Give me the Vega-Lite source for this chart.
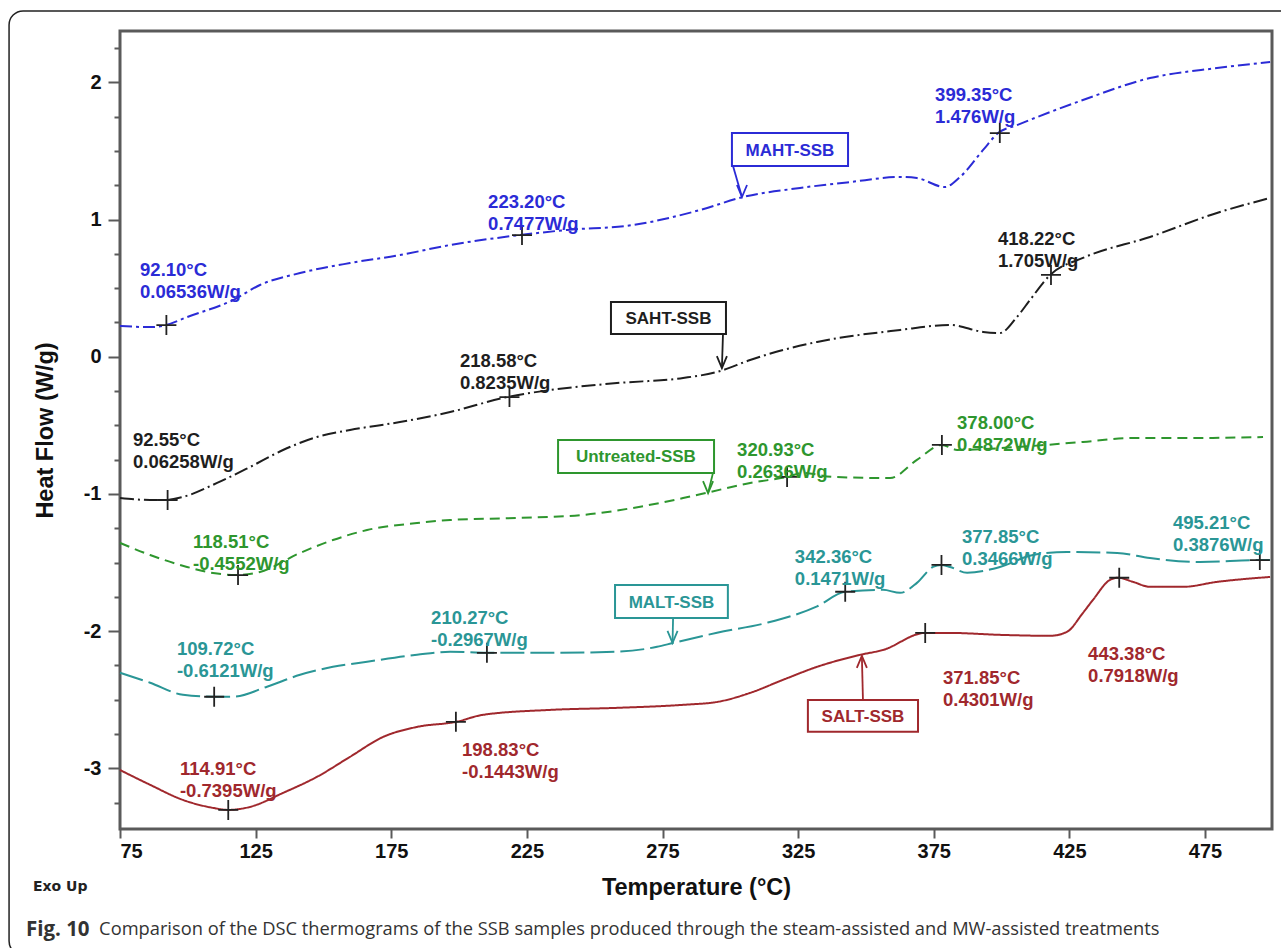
{
  "$schema": "https://vega.github.io/schema/vega-lite/v6.json",
  "width": 1152,
  "height": 798,
  "autosize": "none",
  "padding": {"left": 120, "top": 31, "right": 9, "bottom": 119},
  "background": "white",
  "config": {
    "view": {"stroke": "#5a5a5a", "strokeWidth": 3},
    "font": "Liberation Sans",
    "axis": {"labelFont": "Liberation Sans", "titleFont": "Liberation Sans", "labelColor": "#111", "titleColor": "#111", "tickColor": "#5a5a5a", "tickWidth": 2, "grid": false, "domain": false}
  },
  "datasets": {
    "curves": [
      {"s": "MAHT-SSB", "t": 75, "hf": 0.224},
      {"s": "MAHT-SSB", "t": 86.1, "hf": 0.216},
      {"s": "MAHT-SSB", "t": 92.0, "hf": 0.231},
      {"s": "MAHT-SSB", "t": 99.7, "hf": 0.289},
      {"s": "MAHT-SSB", "t": 116.7, "hf": 0.413},
      {"s": "MAHT-SSB", "t": 126.6, "hf": 0.523},
      {"s": "MAHT-SSB", "t": 141.4, "hf": 0.61},
      {"s": "MAHT-SSB", "t": 159.8, "hf": 0.683},
      {"s": "MAHT-SSB", "t": 178.2, "hf": 0.741},
      {"s": "MAHT-SSB", "t": 196.6, "hf": 0.814},
      {"s": "MAHT-SSB", "t": 222.5, "hf": 0.887},
      {"s": "MAHT-SSB", "t": 239.8, "hf": 0.924},
      {"s": "MAHT-SSB", "t": 264.1, "hf": 0.96},
      {"s": "MAHT-SSB", "t": 288.8, "hf": 1.069},
      {"s": "MAHT-SSB", "t": 304.7, "hf": 1.164},
      {"s": "MAHT-SSB", "t": 325.7, "hf": 1.23},
      {"s": "MAHT-SSB", "t": 344.1, "hf": 1.273},
      {"s": "MAHT-SSB", "t": 362.6, "hf": 1.31},
      {"s": "MAHT-SSB", "t": 368.8, "hf": 1.302},
      {"s": "MAHT-SSB", "t": 379.1, "hf": 1.237},
      {"s": "MAHT-SSB", "t": 384.7, "hf": 1.31},
      {"s": "MAHT-SSB", "t": 393.2, "hf": 1.507},
      {"s": "MAHT-SSB", "t": 398.7, "hf": 1.63},
      {"s": "MAHT-SSB", "t": 405.7, "hf": 1.688},
      {"s": "MAHT-SSB", "t": 430.0, "hf": 1.871},
      {"s": "MAHT-SSB", "t": 454.7, "hf": 2.031},
      {"s": "MAHT-SSB", "t": 479.4, "hf": 2.104},
      {"s": "MAHT-SSB", "t": 499.0, "hf": 2.148},

      {"s": "SAHT-SSB", "t": 75, "hf": -1.03},
      {"s": "SAHT-SSB", "t": 86.1, "hf": -1.044},
      {"s": "SAHT-SSB", "t": 92.0, "hf": -1.044},
      {"s": "SAHT-SSB", "t": 98.2, "hf": -1.022},
      {"s": "SAHT-SSB", "t": 110.8, "hf": -0.92},
      {"s": "SAHT-SSB", "t": 122.9, "hf": -0.804},
      {"s": "SAHT-SSB", "t": 135.1, "hf": -0.68},
      {"s": "SAHT-SSB", "t": 147.6, "hf": -0.585},
      {"s": "SAHT-SSB", "t": 159.8, "hf": -0.534},
      {"s": "SAHT-SSB", "t": 178.2, "hf": -0.476},
      {"s": "SAHT-SSB", "t": 196.7, "hf": -0.403},
      {"s": "SAHT-SSB", "t": 217.7, "hf": -0.294},
      {"s": "SAHT-SSB", "t": 233.5, "hf": -0.243},
      {"s": "SAHT-SSB", "t": 258.2, "hf": -0.192},
      {"s": "SAHT-SSB", "t": 282.6, "hf": -0.155},
      {"s": "SAHT-SSB", "t": 295.1, "hf": -0.111},
      {"s": "SAHT-SSB", "t": 307.3, "hf": -0.024},
      {"s": "SAHT-SSB", "t": 319.4, "hf": 0.049},
      {"s": "SAHT-SSB", "t": 332.0, "hf": 0.108},
      {"s": "SAHT-SSB", "t": 362.6, "hf": 0.195},
      {"s": "SAHT-SSB", "t": 381.0, "hf": 0.232},
      {"s": "SAHT-SSB", "t": 393.2, "hf": 0.181},
      {"s": "SAHT-SSB", "t": 399.4, "hf": 0.173},
      {"s": "SAHT-SSB", "t": 405.7, "hf": 0.29},
      {"s": "SAHT-SSB", "t": 410.5, "hf": 0.414},
      {"s": "SAHT-SSB", "t": 417.9, "hf": 0.596},
      {"s": "SAHT-SSB", "t": 430.0, "hf": 0.72},
      {"s": "SAHT-SSB", "t": 454.7, "hf": 0.873},
      {"s": "SAHT-SSB", "t": 479.4, "hf": 1.048},
      {"s": "SAHT-SSB", "t": 499.0, "hf": 1.157},

      {"s": "Untreated-SSB", "t": 75, "hf": -1.357},
      {"s": "Untreated-SSB", "t": 86.1, "hf": -1.445},
      {"s": "Untreated-SSB", "t": 99.7, "hf": -1.532},
      {"s": "Untreated-SSB", "t": 109.3, "hf": -1.576},
      {"s": "Untreated-SSB", "t": 117.8, "hf": -1.591},
      {"s": "Untreated-SSB", "t": 126.6, "hf": -1.569},
      {"s": "Untreated-SSB", "t": 141.4, "hf": -1.43},
      {"s": "Untreated-SSB", "t": 153.5, "hf": -1.336},
      {"s": "Untreated-SSB", "t": 166.1, "hf": -1.263},
      {"s": "Untreated-SSB", "t": 184.5, "hf": -1.212},
      {"s": "Untreated-SSB", "t": 196.7, "hf": -1.19},
      {"s": "Untreated-SSB", "t": 221.4, "hf": -1.175},
      {"s": "Untreated-SSB", "t": 245.7, "hf": -1.153},
      {"s": "Untreated-SSB", "t": 264.1, "hf": -1.102},
      {"s": "Untreated-SSB", "t": 282.6, "hf": -1.03},
      {"s": "Untreated-SSB", "t": 292.5, "hf": -0.986},
      {"s": "Untreated-SSB", "t": 307.3, "hf": -0.92},
      {"s": "Untreated-SSB", "t": 320.9, "hf": -0.876},
      {"s": "Untreated-SSB", "t": 326.8, "hf": -0.847},
      {"s": "Untreated-SSB", "t": 337.9, "hf": -0.876},
      {"s": "Untreated-SSB", "t": 358.9, "hf": -0.884},
      {"s": "Untreated-SSB", "t": 368.8, "hf": -0.752},
      {"s": "Untreated-SSB", "t": 378.0, "hf": -0.643},
      {"s": "Untreated-SSB", "t": 383.6, "hf": -0.679},
      {"s": "Untreated-SSB", "t": 405.7, "hf": -0.658},
      {"s": "Untreated-SSB", "t": 430.0, "hf": -0.621},
      {"s": "Untreated-SSB", "t": 448.5, "hf": -0.592},
      {"s": "Untreated-SSB", "t": 473.2, "hf": -0.592},
      {"s": "Untreated-SSB", "t": 496.4, "hf": -0.585},

      {"s": "MALT-SSB", "t": 75, "hf": -2.303},
      {"s": "MALT-SSB", "t": 86.1, "hf": -2.376},
      {"s": "MALT-SSB", "t": 98.2, "hf": -2.464},
      {"s": "MALT-SSB", "t": 109.7, "hf": -2.478},
      {"s": "MALT-SSB", "t": 116.7, "hf": -2.478},
      {"s": "MALT-SSB", "t": 129.2, "hf": -2.405},
      {"s": "MALT-SSB", "t": 141.4, "hf": -2.318},
      {"s": "MALT-SSB", "t": 153.5, "hf": -2.26},
      {"s": "MALT-SSB", "t": 166.1, "hf": -2.223},
      {"s": "MALT-SSB", "t": 184.5, "hf": -2.172},
      {"s": "MALT-SSB", "t": 196.7, "hf": -2.15},
      {"s": "MALT-SSB", "t": 210.3, "hf": -2.158},
      {"s": "MALT-SSB", "t": 233.5, "hf": -2.158},
      {"s": "MALT-SSB", "t": 258.2, "hf": -2.15},
      {"s": "MALT-SSB", "t": 273.0, "hf": -2.114},
      {"s": "MALT-SSB", "t": 278.9, "hf": -2.086},
      {"s": "MALT-SSB", "t": 295.1, "hf": -2.012},
      {"s": "MALT-SSB", "t": 313.5, "hf": -1.939},
      {"s": "MALT-SSB", "t": 332.0, "hf": -1.82},
      {"s": "MALT-SSB", "t": 342.3, "hf": -1.713},
      {"s": "MALT-SSB", "t": 356.3, "hf": -1.699},
      {"s": "MALT-SSB", "t": 362.6, "hf": -1.721},
      {"s": "MALT-SSB", "t": 368.8, "hf": -1.648},
      {"s": "MALT-SSB", "t": 374.7, "hf": -1.532},
      {"s": "MALT-SSB", "t": 377.7, "hf": -1.517},
      {"s": "MALT-SSB", "t": 381.0, "hf": -1.532},
      {"s": "MALT-SSB", "t": 387.3, "hf": -1.575},
      {"s": "MALT-SSB", "t": 399.4, "hf": -1.532},
      {"s": "MALT-SSB", "t": 411.6, "hf": -1.445},
      {"s": "MALT-SSB", "t": 424.1, "hf": -1.423},
      {"s": "MALT-SSB", "t": 442.6, "hf": -1.43},
      {"s": "MALT-SSB", "t": 454.7, "hf": -1.467},
      {"s": "MALT-SSB", "t": 473.2, "hf": -1.496},
      {"s": "MALT-SSB", "t": 495.3, "hf": -1.482},
      {"s": "MALT-SSB", "t": 499.0, "hf": -1.482},

      {"s": "SALT-SSB", "t": 75, "hf": -3.012},
      {"s": "SALT-SSB", "t": 86.1, "hf": -3.12},
      {"s": "SALT-SSB", "t": 98.2, "hf": -3.23},
      {"s": "SALT-SSB", "t": 109.3, "hf": -3.288},
      {"s": "SALT-SSB", "t": 114.8, "hf": -3.303},
      {"s": "SALT-SSB", "t": 122.9, "hf": -3.281},
      {"s": "SALT-SSB", "t": 135.1, "hf": -3.179},
      {"s": "SALT-SSB", "t": 147.6, "hf": -3.062},
      {"s": "SALT-SSB", "t": 159.8, "hf": -2.916},
      {"s": "SALT-SSB", "t": 172.0, "hf": -2.771},
      {"s": "SALT-SSB", "t": 184.5, "hf": -2.698},
      {"s": "SALT-SSB", "t": 198.9, "hf": -2.661},
      {"s": "SALT-SSB", "t": 208.8, "hf": -2.61},
      {"s": "SALT-SSB", "t": 233.5, "hf": -2.574},
      {"s": "SALT-SSB", "t": 258.2, "hf": -2.559},
      {"s": "SALT-SSB", "t": 282.6, "hf": -2.537},
      {"s": "SALT-SSB", "t": 295.1, "hf": -2.516},
      {"s": "SALT-SSB", "t": 307.3, "hf": -2.45},
      {"s": "SALT-SSB", "t": 319.4, "hf": -2.355},
      {"s": "SALT-SSB", "t": 332.0, "hf": -2.26},
      {"s": "SALT-SSB", "t": 347.8, "hf": -2.173},
      {"s": "SALT-SSB", "t": 356.3, "hf": -2.137},
      {"s": "SALT-SSB", "t": 371.8, "hf": -2.013},
      {"s": "SALT-SSB", "t": 381.0, "hf": -2.013},
      {"s": "SALT-SSB", "t": 399.4, "hf": -2.027},
      {"s": "SALT-SSB", "t": 417.9, "hf": -2.034},
      {"s": "SALT-SSB", "t": 424.1, "hf": -2.005},
      {"s": "SALT-SSB", "t": 430.0, "hf": -1.867},
      {"s": "SALT-SSB", "t": 433.7, "hf": -1.772},
      {"s": "SALT-SSB", "t": 440.0, "hf": -1.626},
      {"s": "SALT-SSB", "t": 442.9, "hf": -1.611},
      {"s": "SALT-SSB", "t": 448.5, "hf": -1.641},
      {"s": "SALT-SSB", "t": 454.7, "hf": -1.677},
      {"s": "SALT-SSB", "t": 466.9, "hf": -1.677},
      {"s": "SALT-SSB", "t": 479.4, "hf": -1.641},
      {"s": "SALT-SSB", "t": 499.0, "hf": -1.605}
    ],
    "markers": [
      {"t": 92.10, "hf": 0.231},
      {"t": 223.20, "hf": 0.887},
      {"t": 399.35, "hf": 1.63},
      {"t": 92.55, "hf": -1.044},
      {"t": 218.58, "hf": -0.294},
      {"t": 418.22, "hf": 0.596},
      {"t": 118.51, "hf": -1.591},
      {"t": 320.93, "hf": -0.876},
      {"t": 378.00, "hf": -0.643},
      {"t": 109.72, "hf": -2.478},
      {"t": 210.27, "hf": -2.158},
      {"t": 342.36, "hf": -1.713},
      {"t": 377.85, "hf": -1.517},
      {"t": 495.21, "hf": -1.482},
      {"t": 114.91, "hf": -3.303},
      {"t": 198.83, "hf": -2.661},
      {"t": 371.85, "hf": -2.013},
      {"t": 443.38, "hf": -1.611}
    ],
    "labels": [
      {"s": "MAHT-SSB", "t": 82.4, "hf": 0.632, "txt": "92.10°C\n0.06536W/g"},
      {"s": "MAHT-SSB", "t": 210.7, "hf": 1.131, "txt": "223.20°C\n0.7477W/g"},
      {"s": "MAHT-SSB", "t": 375.5, "hf": 1.911, "txt": "399.35°C\n1.476W/g"},
      {"s": "SAHT-SSB", "t": 79.8, "hf": -0.607, "txt": "92.55°C\n0.06258W/g"},
      {"s": "SAHT-SSB", "t": 200.3, "hf": -0.028, "txt": "218.58°C\n0.8235W/g"},
      {"s": "SAHT-SSB", "t": 398.7, "hf": 0.858, "txt": "418.22°C\n1.705W/g"},
      {"s": "Untreated-SSB", "t": 101.9, "hf": -1.347, "txt": "118.51°C\n-0.4552W/g"},
      {"s": "Untreated-SSB", "t": 302.5, "hf": -0.68, "txt": "320.93°C\n0.2636W/g"},
      {"s": "Untreated-SSB", "t": 383.6, "hf": -0.48, "txt": "378.00°C\n0.4872W/g"},
      {"s": "MALT-SSB", "t": 96.0, "hf": -2.13, "txt": "109.72°C\n-0.6121W/g"},
      {"s": "MALT-SSB", "t": 189.7, "hf": -1.905, "txt": "210.27°C\n-0.2967W/g"},
      {"s": "MALT-SSB", "t": 323.8, "hf": -1.456, "txt": "342.36°C\n0.1471W/g"},
      {"s": "MALT-SSB", "t": 385.4, "hf": -1.314, "txt": "377.85°C\n0.3466W/g"},
      {"s": "MALT-SSB", "t": 463.2, "hf": -1.212, "txt": "495.21°C\n0.3876W/g"},
      {"s": "SALT-SSB", "t": 97.1, "hf": -3.005, "txt": "114.91°C\n-0.7395W/g"},
      {"s": "SALT-SSB", "t": 201.1, "hf": -2.863, "txt": "198.83°C\n-0.1443W/g"},
      {"s": "SALT-SSB", "t": 378.4, "hf": -2.338, "txt": "371.85°C\n0.4301W/g"},
      {"s": "SALT-SSB", "t": 431.9, "hf": -2.167, "txt": "443.38°C\n0.7918W/g"}
    ],
    "boxes": [
      {"s": "MAHT-SSB", "t": 300.6, "t2": 343.4, "hf": 1.63, "hf2": 1.39, "tc": 322.0, "hc": 1.51},
      {"s": "SAHT-SSB", "t": 256.0, "t2": 298.4, "hf": 0.399, "hf2": 0.165, "tc": 277.2, "hc": 0.282},
      {"s": "Untreated-SSB", "t": 236.5, "t2": 294.0, "hf": -0.607, "hf2": -0.848, "tc": 265.2, "hc": -0.727},
      {"s": "MALT-SSB", "t": 257.5, "t2": 299.1, "hf": -1.663, "hf2": -1.904, "tc": 278.3, "hc": -1.784},
      {"s": "SALT-SSB", "t": 328.6, "t2": 369.2, "hf": -2.501, "hf2": -2.734, "tc": 348.9, "hc": -2.619}
    ],
    "arrows": [
      {"s": "MAHT-SSB", "t": 301.0, "hf": 1.39, "t2": 304.3, "hf2": 1.164, "dir": "down"},
      {"s": "SAHT-SSB", "t": 297.3, "hf": 0.165, "t2": 296.9, "hf2": -0.083, "dir": "down"},
      {"s": "Untreated-SSB", "t": 293.6, "hf": -0.848, "t2": 291.8, "hf2": -0.994, "dir": "down"},
      {"s": "MALT-SSB", "t": 278.9, "hf": -1.904, "t2": 278.7, "hf2": -2.086, "dir": "down"},
      {"s": "SALT-SSB", "t": 348.9, "hf": -2.501, "t2": 348.5, "hf2": -2.18, "dir": "up"}
    ]
  },
  "layer": [
    {
      "data": {"values": [{}]},
      "mark": {"type": "rect", "filled": false, "stroke": "#222", "strokeWidth": 1.5, "cornerRadius": 14, "clip": false},
      "encoding": {
        "x": {"datum": 34.1, "type": "quantitative", "scale": {"domain": [75, 499.7], "nice": false, "zero": false}, "axis": {"values": [75, 125, 175, 225, 275, 325, 375, 425, 475], "tickSize": 9, "labelFontSize": 20, "labelFontWeight": "bold", "labelPadding": 3, "title": "Temperature (°C)", "titleFontSize": 23.5, "titleFontWeight": "bold", "titlePadding": 14}},
        "x2": {"datum": 512},
        "y": {"datum": 2.52, "type": "quantitative", "scale": {"domain": [-3.442, 2.374], "nice": false, "zero": false}, "axis": {"orient": "left", "values": [-3, -2, -1, 0, 1, 2], "labelExpr": "datum.value < 0 ? '-' + abs(datum.value) : '' + datum.value", "tickSize": 12, "labelFontSize": 20, "labelFontWeight": "bold", "labelPadding": 7, "title": "Heat Flow (W/g)", "titleFontSize": 23.5, "titleFontWeight": "bold", "titlePadding": 26}},
        "y2": {"datum": -4.361}
      }
    },
    {
      "data": {"name": "curves"},
      "mark": {"type": "line", "strokeWidth": 2, "interpolate": "monotone"},
      "encoding": {
        "x": {"field": "t", "type": "quantitative"},
        "y": {"field": "hf", "type": "quantitative", "axis": {"orient": "left", "values": [-3.25, -2.75, -2.5, -2.25, -1.75, -1.5, -1.25, -0.75, -0.5, -0.25, 0.25, 0.5, 0.75, 1.25, 1.5, 1.75, 2.25], "tickSize": 6, "labels": false, "title": null}},
        "color": {"field": "s", "type": "nominal", "legend": null, "scale": {"domain": ["MAHT-SSB", "SAHT-SSB", "Untreated-SSB", "MALT-SSB", "SALT-SSB"], "range": ["#2b2bd6", "#1e1e1e", "#2e962e", "#2a9696", "#a0282d"]}},
        "strokeDash": {"field": "s", "type": "nominal", "legend": null, "scale": {"domain": ["MAHT-SSB", "SAHT-SSB", "Untreated-SSB", "MALT-SSB", "SALT-SSB"], "range": [[12, 4, 3, 4], [14, 4, 2, 4], [10, 6], [24, 6], [1, 0]]}}
      }
    },
    {
      "data": {"name": "markers"},
      "mark": {"type": "point", "shape": "M-1,0H1M0,-1V1", "size": 400, "stroke": "#222", "strokeWidth": 1.8, "opacity": 1},
      "encoding": {
        "x": {"field": "t", "type": "quantitative"},
        "y": {"field": "hf", "type": "quantitative", "axis": null}
      }
    },
    {
      "data": {"name": "labels"},
      "mark": {"type": "text", "align": "left", "baseline": "middle", "fontSize": 18.5, "fontWeight": "bold", "lineBreak": "\n", "lineHeight": 22, "clip": false},
      "encoding": {
        "x": {"field": "t", "type": "quantitative"},
        "y": {"field": "hf", "type": "quantitative", "axis": null},
        "text": {"field": "txt"},
        "color": {"field": "s", "type": "nominal", "legend": null}
      }
    },
    {
      "data": {"name": "boxes"},
      "mark": {"type": "rect", "fill": "white", "strokeWidth": 2},
      "encoding": {
        "x": {"field": "t", "type": "quantitative"},
        "x2": {"field": "t2"},
        "y": {"field": "hf", "type": "quantitative", "axis": null},
        "y2": {"field": "hf2"},
        "stroke": {"field": "s", "type": "nominal", "legend": null, "scale": {"domain": ["MAHT-SSB", "SAHT-SSB", "Untreated-SSB", "MALT-SSB", "SALT-SSB"], "range": ["#2b2bd6", "#1e1e1e", "#2e962e", "#2a9696", "#a0282d"]}}
      }
    },
    {
      "data": {"name": "boxes"},
      "mark": {"type": "text", "align": "center", "baseline": "middle", "fontSize": 17, "fontWeight": "bold", "dy": 1},
      "encoding": {
        "x": {"field": "tc", "type": "quantitative"},
        "y": {"field": "hc", "type": "quantitative", "axis": null},
        "text": {"field": "s"},
        "color": {"field": "s", "type": "nominal", "legend": null}
      }
    },
    {
      "data": {"name": "arrows"},
      "mark": {"type": "rule", "strokeWidth": 1.8},
      "encoding": {
        "x": {"field": "t", "type": "quantitative"},
        "y": {"field": "hf", "type": "quantitative", "axis": null},
        "x2": {"field": "t2"},
        "y2": {"field": "hf2"},
        "color": {"field": "s", "type": "nominal", "legend": null}
      }
    },
    {
      "data": {"name": "arrows"},
      "mark": {"type": "point", "strokeWidth": 1.8, "size": 576, "opacity": 1},
      "encoding": {
        "x": {"field": "t2", "type": "quantitative"},
        "y": {"field": "hf2", "type": "quantitative", "axis": null},
        "shape": {"field": "dir", "type": "nominal", "legend": null, "scale": {"domain": ["down", "up"], "range": ["M-0.42,-1L0,0L0.42,-1", "M-0.42,1L0,0L0.42,1"]}},
        "stroke": {"field": "s", "type": "nominal", "legend": null, "scale": {"domain": ["MAHT-SSB", "SAHT-SSB", "Untreated-SSB", "MALT-SSB", "SALT-SSB"], "range": ["#2b2bd6", "#1e1e1e", "#2e962e", "#2a9696", "#a0282d"]}}
      }
    },
    {
      "data": {"values": [{}]},
      "mark": {"type": "text", "text": "Exo Up", "align": "left", "baseline": "middle", "fontSize": 14, "fontWeight": "bold", "font": "DejaVu Sans", "color": "#222", "clip": false},
      "encoding": {
        "x": {"datum": 42.9, "type": "quantitative"},
        "y": {"datum": -3.865, "type": "quantitative", "axis": null}
      }
    },
    {
      "data": {"values": [{}]},
      "mark": {"type": "text", "text": "Fig. 10", "align": "left", "baseline": "middle", "fontSize": 20.5, "fontWeight": "bold", "font": "Open Sans", "color": "#333", "clip": false},
      "encoding": {
        "x": {"datum": 40.3, "type": "quantitative"},
        "y": {"datum": -4.179, "type": "quantitative", "axis": null}
      }
    },
    {
      "data": {"values": [{}]},
      "mark": {"type": "text", "text": "Comparison of the DSC thermograms of the SSB samples produced through the steam-assisted and MW-assisted treatments", "align": "left", "baseline": "middle", "fontSize": 18.3, "font": "Open Sans", "color": "#333", "clip": false},
      "encoding": {
        "x": {"datum": 67.3, "type": "quantitative"},
        "y": {"datum": -4.179, "type": "quantitative", "axis": null}
      }
    }
  ],
  "resolve": {"axis": {"y": "independent"}}
}
